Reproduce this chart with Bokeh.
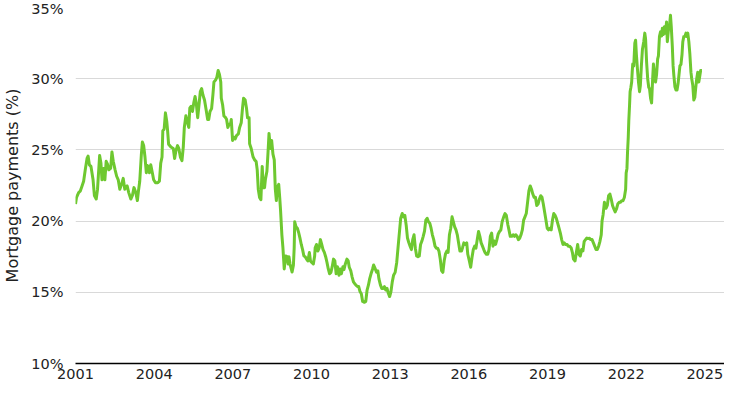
from bokeh.plotting import figure
from bokeh.models import Range1d, FixedTicker, PrintfTickFormatter, ColumnDataSource
from bokeh.embed import file_html
from bokeh.resources import INLINE

years = [
    2001.00, 2001.04, 2001.12, 2001.18, 2001.25, 2001.31, 2001.38, 2001.44, 2001.48, 2001.53,
    2001.59, 2001.67, 2001.72, 2001.79, 2001.84, 2001.92, 2001.97, 2002.01, 2002.07, 2002.12,
    2002.17, 2002.22, 2002.27, 2002.34, 2002.39, 2002.44, 2002.51, 2002.57, 2002.63, 2002.69,
    2002.76, 2002.82, 2002.88, 2002.97, 2003.03, 2003.11, 2003.17, 2003.23, 2003.30, 2003.36,
    2003.40, 2003.45, 2003.51, 2003.55, 2003.60, 2003.65, 2003.70, 2003.74, 2003.79, 2003.82,
    2003.87, 2003.93, 2003.98, 2004.05, 2004.14, 2004.20, 2004.25, 2004.30, 2004.33, 2004.38,
    2004.43, 2004.48, 2004.51, 2004.55, 2004.64, 2004.73, 2004.78, 2004.83, 2004.89, 2004.94,
    2005.00, 2005.06, 2005.11, 2005.15, 2005.21, 2005.26, 2005.32, 2005.36, 2005.41, 2005.46,
    2005.51, 2005.56, 2005.61, 2005.66, 2005.71, 2005.76, 2005.81, 2005.86, 2005.92, 2005.98,
    2006.04, 2006.08, 2006.13, 2006.19, 2006.24, 2006.28, 2006.34, 2006.39, 2006.44, 2006.49,
    2006.54, 2006.56, 2006.61, 2006.66, 2006.71, 2006.76, 2006.81, 2006.86, 2006.91, 2006.94,
    2006.99, 2007.04, 2007.09, 2007.14, 2007.21, 2007.26, 2007.32, 2007.37, 2007.41, 2007.47,
    2007.52, 2007.56, 2007.62, 2007.64, 2007.70, 2007.77, 2007.83, 2007.89, 2007.93, 2007.97,
    2008.02, 2008.07, 2008.12, 2008.16, 2008.21, 2008.24, 2008.30, 2008.34, 2008.38, 2008.43,
    2008.48, 2008.53, 2008.58, 2008.62, 2008.66, 2008.69, 2008.75, 2008.79, 2008.82, 2008.87,
    2008.91, 2008.96, 2009.01, 2009.07, 2009.11, 2009.14, 2009.18, 2009.26, 2009.31, 2009.34,
    2009.36, 2009.41, 2009.46, 2009.51, 2009.56, 2009.61, 2009.66, 2009.71, 2009.76, 2009.81,
    2009.86, 2009.92, 2009.96, 2010.01, 2010.07, 2010.12, 2010.14, 2010.19, 2010.24, 2010.29,
    2010.34, 2010.39, 2010.44, 2010.49, 2010.54, 2010.59, 2010.64, 2010.69, 2010.74, 2010.79,
    2010.84, 2010.89, 2010.94, 2010.99, 2011.05, 2011.09, 2011.14, 2011.20, 2011.24, 2011.29,
    2011.35, 2011.40, 2011.44, 2011.50, 2011.55, 2011.60, 2011.65, 2011.70, 2011.75, 2011.80,
    2011.85, 2011.90, 2011.95, 2012.02, 2012.07, 2012.12, 2012.17, 2012.22, 2012.27, 2012.33,
    2012.37, 2012.42, 2012.48, 2012.53, 2012.57, 2012.63, 2012.68, 2012.72, 2012.78, 2012.83,
    2012.88, 2012.93, 2012.98, 2013.03, 2013.08, 2013.13, 2013.19, 2013.25, 2013.30, 2013.35,
    2013.40, 2013.46, 2013.51, 2013.56, 2013.61, 2013.66, 2013.71, 2013.76, 2013.81, 2013.86,
    2013.91, 2013.96, 2014.01, 2014.06, 2014.11, 2014.16, 2014.21, 2014.26, 2014.31, 2014.36,
    2014.41, 2014.46, 2014.51, 2014.56, 2014.61, 2014.66, 2014.71, 2014.76, 2014.81, 2014.86,
    2014.91, 2014.96, 2015.01, 2015.06, 2015.11, 2015.16, 2015.21, 2015.26, 2015.31, 2015.36,
    2015.41, 2015.46, 2015.51, 2015.56, 2015.61, 2015.66, 2015.72, 2015.76, 2015.81, 2015.87,
    2015.92, 2015.96, 2016.02, 2016.07, 2016.12, 2016.17, 2016.22, 2016.27, 2016.32, 2016.37,
    2016.42, 2016.47, 2016.52, 2016.57, 2016.62, 2016.67, 2016.72, 2016.77, 2016.82, 2016.87,
    2016.92, 2016.97, 2017.02, 2017.07, 2017.12, 2017.17, 2017.22, 2017.27, 2017.33, 2017.38,
    2017.43, 2017.49, 2017.53, 2017.58, 2017.64, 2017.69, 2017.74, 2017.79, 2017.84, 2017.89,
    2017.94, 2017.99, 2018.04, 2018.09, 2018.14, 2018.19, 2018.24, 2018.29, 2018.34, 2018.39,
    2018.44, 2018.49, 2018.54, 2018.59, 2018.64, 2018.69, 2018.74, 2018.79, 2018.84, 2018.89,
    2018.94, 2018.99, 2019.04, 2019.09, 2019.14, 2019.19, 2019.24, 2019.29, 2019.34, 2019.39,
    2019.44, 2019.49, 2019.54, 2019.59, 2019.64, 2019.69, 2019.75, 2019.79, 2019.84, 2019.90,
    2019.95, 2019.99, 2020.05, 2020.10, 2020.15, 2020.20, 2020.25, 2020.30, 2020.35, 2020.40,
    2020.45, 2020.50, 2020.55, 2020.60, 2020.65, 2020.70, 2020.75, 2020.80, 2020.85, 2020.90,
    2020.95, 2021.00, 2021.05, 2021.08, 2021.12, 2021.17, 2021.23, 2021.28, 2021.33, 2021.38,
    2021.43, 2021.48, 2021.53, 2021.58, 2021.63, 2021.68, 2021.73, 2021.78, 2021.83, 2021.88,
    2021.93, 2021.98, 2022.00, 2022.03, 2022.05, 2022.08, 2022.10, 2022.13, 2022.15, 2022.18,
    2022.21, 2022.23, 2022.25, 2022.29, 2022.33, 2022.36, 2022.39, 2022.43, 2022.47, 2022.51,
    2022.54, 2022.58, 2022.62, 2022.67, 2022.71, 2022.74, 2022.78, 2022.82, 2022.86, 2022.89,
    2022.93, 2022.97, 2023.01, 2023.04, 2023.08, 2023.12, 2023.16, 2023.20, 2023.23, 2023.27,
    2023.31, 2023.35, 2023.38, 2023.42, 2023.46, 2023.50, 2023.54, 2023.57, 2023.61, 2023.65,
    2023.69, 2023.72, 2023.76, 2023.79, 2023.82, 2023.86, 2023.90, 2023.94, 2023.98, 2024.01,
    2024.05, 2024.09, 2024.13, 2024.16, 2024.20, 2024.24, 2024.28, 2024.31, 2024.35, 2024.39,
    2024.43, 2024.47, 2024.50, 2024.54, 2024.58, 2024.62, 2024.65, 2024.69, 2024.73, 2024.77,
    2024.80, 2024.84, 2024.89,
]

payments = [
    21.2, 21.67, 22.0, 22.1, 22.47, 22.8, 23.7, 24.4, 24.57, 23.95,
    23.84, 22.9, 21.8, 21.55, 22.24, 24.6, 24.06, 22.9, 23.7, 22.9,
    24.2, 24.0, 23.6, 23.7, 24.86, 24.2, 23.6, 23.15, 22.9, 22.24,
    22.6, 23.0, 22.24, 22.47, 22.0, 21.55, 21.8, 22.35, 22.0, 21.44,
    22.1, 22.8, 24.64, 25.55, 25.3, 24.5, 23.4, 23.9, 23.8, 23.4,
    23.95, 23.4, 22.9, 22.7, 22.7, 22.8, 24.06, 24.5, 26.35, 26.45,
    27.6, 27.0, 26.4, 25.4, 25.2, 25.1, 24.4, 24.95, 25.3, 25.1,
    24.5, 24.25, 25.2, 26.58, 27.4, 27.0, 26.58, 27.95, 28.06, 27.7,
    28.3, 28.75, 28.2, 27.26, 28.17, 29.09, 29.3, 28.85, 28.5, 27.83,
    27.14, 27.14, 27.7, 27.9, 28.86, 29.77, 29.9, 30.1, 30.57, 30.3,
    29.77, 28.63, 28.17, 27.37, 27.3, 27.15, 26.58, 26.8, 26.8, 27.14,
    25.66, 25.9, 25.77, 26.0, 26.12, 26.58, 26.9, 27.95, 28.63, 28.5,
    27.95, 27.26, 27.26, 25.43, 25.1, 24.52, 24.3, 24.18, 23.6, 22.24,
    21.66, 21.5, 23.84, 22.35, 22.35, 22.9, 23.5, 24.75, 26.16, 25.1,
    25.66, 24.7, 24.3, 22.24, 21.44, 22.35, 22.58, 21.6, 20.75, 19.04,
    18.13, 16.64, 17.55, 17.5, 16.99, 17.5, 17.0, 16.42, 16.9, 18.13,
    19.95, 19.6, 19.5, 19.2, 18.8, 18.36, 18.0, 17.55, 17.5, 17.33,
    17.2, 17.79, 17.2, 17.1, 16.99, 17.55, 18.13, 18.36, 17.9, 18.1,
    18.7, 18.36, 18.0, 17.8, 17.5, 17.1, 16.64, 16.3, 16.4, 16.8,
    17.33, 17.2, 16.3, 16.8, 16.19, 16.64, 16.3, 16.8, 16.6, 16.99,
    17.33, 17.2, 16.76, 16.5, 16.07, 15.73, 15.6, 15.5, 15.4, 15.4,
    15.05, 14.9, 14.36, 14.3, 14.36, 15.16, 15.5, 15.96, 16.3, 16.64,
    16.92, 16.7, 16.42, 16.5, 15.96, 15.5, 15.27, 15.27, 15.4, 15.16,
    15.27, 14.93, 14.7, 15.05, 15.73, 16.2, 16.4, 17.1, 18.13, 19.16,
    20.18, 20.53, 20.3, 20.4, 19.73, 18.81, 18.5, 18.24, 18.0, 18.7,
    19.04, 18.1, 17.55, 17.5, 17.55, 18.36, 18.6, 18.93, 19.3, 20.07,
    20.2, 19.95, 19.85, 19.5, 19.04, 18.7, 18.24, 18.1, 18.1, 17.9,
    17.33, 16.53, 16.4, 17.21, 17.7, 17.9, 17.8, 19.04, 19.5, 20.3,
    19.95, 19.6, 19.38, 19.04, 18.47, 17.9, 17.9, 18.13, 18.47, 18.36,
    18.47, 17.67, 17.2, 16.76, 17.44, 18.0, 18.24, 18.1, 18.7, 19.27,
    18.93, 18.47, 18.24, 18.0, 17.79, 17.67, 17.67, 18.0, 18.93, 19.16,
    18.24, 18.6, 18.36, 18.7, 19.1, 19.27, 19.38, 19.95, 20.3, 20.53,
    20.4, 19.73, 19.38, 18.93, 18.93, 19.04, 18.93, 19.04, 18.93, 18.7,
    18.8, 19.04, 19.38, 20.07, 20.3, 20.53, 21.32, 22.12, 22.47, 22.24,
    21.9, 21.67, 21.67, 21.1, 21.2, 21.55, 21.78, 21.67, 21.2, 20.64,
    20.07, 19.5, 19.38, 19.5, 19.38, 20.07, 20.53, 20.4, 20.18, 19.84,
    19.5, 19.16, 18.7, 18.36, 18.47, 18.36, 18.36, 18.24, 18.24, 18.13,
    17.79, 17.33, 17.2, 17.79, 18.36, 17.67, 17.55, 18.0, 17.9, 18.58,
    18.7, 18.81, 18.77, 18.8, 18.7, 18.7, 18.47, 18.24, 18.0, 18.0,
    18.24, 18.58, 19.04, 20.0, 20.45, 21.32, 20.9, 21.1, 21.78, 21.9,
    21.55, 21.1, 20.85, 20.64, 20.85, 21.2, 21.32, 21.32, 21.43, 21.43,
    21.66, 22.24, 23.38, 23.7, 24.75, 25.9, 27.03, 28.17, 29.09, 29.4,
    29.77, 30.46, 31.03, 30.9, 32.5, 32.7, 31.7, 30.68, 29.77, 29.09,
    29.5, 30.9, 32.05, 32.6, 33.2, 32.8, 31.14, 30.0, 29.4, 29.3,
    28.63, 28.3, 30.0, 31.03, 30.3, 29.77, 30.3, 31.37, 31.6, 32.97,
    33.3, 33.0, 33.54, 33.1, 33.65, 33.2, 33.99, 32.6, 33.4, 33.65,
    34.45, 33.65, 32.28, 30.9, 30.2, 29.43, 29.2, 29.2, 29.66, 30.2,
    30.9, 31.0, 31.7, 32.6, 32.97, 32.97, 33.2, 32.97, 33.2, 32.6,
    31.7, 30.46, 30.0, 29.54, 28.5, 28.7, 29.3, 30.0, 30.46, 29.77,
    30.1, 30.57, 30.57,
]

x_ticks = [2001, 2004, 2007, 2010, 2013, 2016, 2019, 2022, 2025]
y_ticks = [10, 15, 20, 25, 30, 35]
y_label = "Mortgage payments (%)"

source = ColumnDataSource(data=dict(year=years, pay=payments))

p = figure(width=724, height=381, output_backend="svg", toolbar_location=None,
           x_range=Range1d(2001, 2025.75), y_range=Range1d(10, 35),
           min_border_left=69, min_border_right=0, min_border_top=7, min_border_bottom=0)
p.outline_line_color = None
p.background_fill_color = "white"
p.border_fill_color = "white"

p.line("year", "pay", source=source, line_color="#6ec830", line_width=3, line_join="round")

p.xgrid.visible = False
p.ygrid.grid_line_color = "#d9d9d9"
p.ygrid.grid_line_width = 1

p.xaxis.ticker = FixedTicker(ticks=x_ticks)
p.xaxis.formatter = PrintfTickFormatter(format="%d")
p.xaxis.axis_line_color = "black"
p.xaxis.axis_line_width = 1.6
p.xaxis.major_tick_line_color = None
p.xaxis.minor_tick_line_color = None
p.xaxis.major_tick_out = 0
p.xaxis.major_tick_in = 0
p.xaxis.minor_tick_out = 0
p.xaxis.major_label_standoff = 5
p.xaxis.axis_label_standoff = 0
p.xaxis.major_label_text_font = "DejaVu Sans"
p.xaxis.major_label_text_font_size = "14.5px"
p.xaxis.major_label_text_color = "#222222"

p.yaxis.ticker = FixedTicker(ticks=y_ticks)
p.yaxis.formatter = PrintfTickFormatter(format="%d%%")
p.yaxis.axis_line_color = None
p.yaxis.major_tick_line_color = None
p.yaxis.minor_tick_line_color = None
p.yaxis.major_tick_out = 0
p.yaxis.major_tick_in = 0
p.yaxis.minor_tick_out = 0
p.yaxis.major_label_standoff = 12
p.yaxis.major_label_text_font = "DejaVu Sans"
p.yaxis.major_label_text_font_size = "14.5px"
p.yaxis.major_label_text_color = "#222222"
p.yaxis.axis_label = y_label
p.yaxis.axis_label_text_font = "DejaVu Sans"
p.yaxis.axis_label_text_font_size = "16px"
p.yaxis.axis_label_text_font_style = "normal"
p.yaxis.axis_label_text_color = "#222222"
p.yaxis.axis_label_standoff = 6

open("out.html", "w").write(file_html(p, INLINE))
